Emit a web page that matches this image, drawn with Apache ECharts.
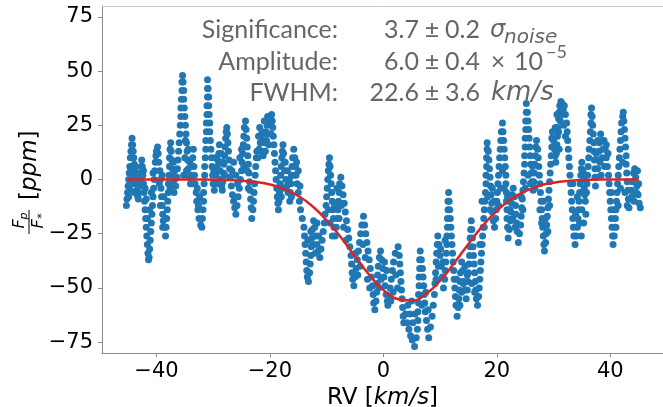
<!DOCTYPE html>
<html><head><meta charset="utf-8">
<script src="https://cdn.jsdelivr.net/npm/echarts@6/dist/echarts.min.js"></script>
<style>html,body{margin:0;padding:0;background:#fff}#c{width:663px;height:407px}</style>
</head><body><div id="c"></div>
<script>
const xTicks = [-40, -20, 0, 20, 40];
const yTicks = [-75, -50, -25, 0, 25, 50, 75];
const statLabels = ['Significance:', 'Amplitude:', 'FWHM:'];
const statValues = ['3.7', '6.0', '22.6'];
const statErrors = ['0.2', '0.4', '3.6'];

// observed points [RV km/s, Fp/F* ppm], traced along the streaks
const obs = [
[-45.3,-12],[-45.2,-9],[-45.1,-6],[-45.0,-3],[-44.9,0],[-44.8,3],[-44.7,6],[-44.6,10],[-44.5,13],[-44.4,16],[-44.3,19],
[-44.2,16],[-44.1,13],[-44.0,10],[-43.9,7],[-43.8,4],[-43.7,1],[-43.6,-2],[-43.5,-5],[-43.3,-8],[-43.2,-9],
[-43.1,-6],[-43.0,-3],[-42.9,0],[-42.8,3],[-42.7,6],[-42.6,9],
[-42.5,6],[-42.4,2],[-42.3,-2],[-42.2,-6],[-42.1,-10],[-42.0,-14],[-41.9,-18],[-41.8,-22],[-41.7,-26],[-41.6,-30],[-41.5,-34],[-41.4,-37],[-41.3,-36],
[-41.2,-32],[-41.1,-28],[-41.0,-24],[-40.9,-20],[-40.8,-16],[-40.7,-12],[-40.6,-8],[-40.5,-4],[-40.4,0],[-40.3,4],[-40.2,8],[-40.1,11],[-40.0,13],[-39.8,15],
[-39.7,12],[-39.6,8],[-39.4,4],[-39.3,0],[-39.2,-4],[-39.1,-8],[-39.0,-12],[-38.9,-16],[-38.8,-19],[-38.6,-22],[-38.4,-26],
[-38.3,-22],[-38.2,-18],[-38.1,-14],[-38.0,-10],[-37.9,-6],[-37.9,-2],[-37.8,2],[-37.7,6],[-37.7,10],[-37.6,14],[-37.5,17],
[-37.4,13],[-37.3,9],[-37.2,5],[-37.0,2],[-36.8,0],[-36.6,-3],
[-36.4,1],[-36.3,5],[-36.2,9],[-36.1,13],[-36.0,17],[-35.9,21],[-35.8,25],[-35.7,29],[-35.7,33],[-35.6,37],[-35.5,41],[-35.5,45],[-35.4,48],
[-35.3,45],[-35.2,41],[-35.2,37],[-35.1,33],[-35.0,29],[-34.9,25],[-34.8,21],[-34.7,17],[-34.6,13],[-34.5,9],[-34.4,5],[-34.2,1],[-34.0,-2],
[-33.9,2],[-33.8,6],[-33.6,10],
[-33.4,6],[-33.3,2],[-33.2,-2],[-33.0,-6],[-32.9,-10],[-32.7,-14],[-32.5,-18],[-32.2,-21],[-32.0,-22],
[-31.9,-18],[-31.8,-14],[-31.7,-10],[-31.7,-6],[-31.6,-2],[-31.5,2],[-31.5,6],[-31.4,10],[-31.3,14],[-31.3,18],[-31.2,22],[-31.2,26],[-31.1,30],[-31.1,34],[-31.0,38],[-31.0,42],[-31.0,46],
[-30.9,42],[-30.8,38],[-30.8,34],[-30.7,30],[-30.6,26],[-30.6,22],[-30.5,18],[-30.4,14],[-30.3,10],[-30.2,6],[-30.1,2],[-30.0,-2],[-29.8,-5],
[-29.6,-2],[-29.5,2],[-29.3,6],[-29.2,9],[-29.0,12],
[-28.9,8],[-28.8,4],[-28.7,0],[-28.5,-3],[-28.4,-5],
[-28.3,-1],[-28.2,3],[-28.1,7],[-28.0,11],[-27.9,15],[-27.8,19],[-27.7,22],[-27.6,24],
[-27.5,21],[-27.4,17],[-27.3,13],[-27.2,9],[-27.1,5],[-27.0,1],[-26.8,-3],[-26.6,-7],[-26.4,-10],[-26.2,-13],[-26.0,-16],
[-25.8,-12],[-25.6,-8],[-25.4,-4],[-25.2,0],[-25.0,4],[-24.9,8],[-24.8,12],[-24.7,16],[-24.6,20],[-24.5,24],[-24.3,27],
[-24.2,23],[-24.1,19],[-24.0,15],[-23.9,11],[-23.8,7],[-23.7,3],[-23.6,-1],[-23.5,-5],[-23.4,-9],[-23.3,-13],[-23.2,-18],
[-23.0,-14],[-22.9,-10],[-22.8,-6],[-22.7,-2],[-22.6,2],[-22.5,6],[-22.4,10],[-22.3,13],[-22.1,10],[-21.9,14],[-21.7,17],[-21.5,13],[-21.3,18],[-21.1,21],[-20.9,17],[-20.7,22],[-20.5,25],[-20.3,21],[-20.1,26],[-19.9,29],[-19.7,30],[-19.6,27],
[-19.5,24],[-19.4,20],[-19.3,16],[-19.2,12],[-19.1,8],[-19.0,4],[-18.9,0],[-18.8,-4],[-18.7,-8],[-18.6,-11],[-18.5,-14],
[-18.4,-10],[-18.3,-6],[-18.2,-2],[-18.1,2],[-18.0,6],[-17.9,10],[-17.8,13],[-17.7,16],
[-17.6,12],[-17.5,8],[-17.4,4],[-17.2,0],[-17.0,-3],[-16.8,-6],[-16.5,-10],
[-16.4,-6],[-16.3,-2],[-16.2,2],[-16.1,6],[-16.0,10],[-15.8,14],
[-15.6,10],[-15.5,6],[-15.4,2],[-15.2,-2],[-15.0,-6],[-14.8,-10],[-14.6,-14],[-14.3,-18],[-14.0,-22],
[-13.9,-26],[-13.8,-30],[-13.7,-34],[-13.6,-38],[-13.5,-42],[-13.4,-45],[-13.2,-47],
[-13.0,-43],[-12.9,-39],[-12.8,-35],[-12.7,-31],[-12.6,-27],[-12.5,-23],[-12.3,-19],
[-12.1,-22],[-11.9,-26],[-11.7,-30],[-11.5,-33],[-11.2,-36],
[-11.0,-32],[-10.8,-28],[-10.6,-24],[-10.4,-20],[-10.3,-16],[-10.1,-12],[-10.0,-8],
[-9.9,-4],[-9.8,0],[-9.7,4],[-9.6,7],[-9.5,10],
[-9.4,6],[-9.3,2],[-9.2,-2],[-9.1,-6],[-9.0,-10],[-8.9,-14],[-8.8,-18],[-8.7,-22],[-8.5,-26],
[-8.3,-22],[-8.1,-18],[-8.0,-14],[-7.9,-10],[-7.8,-6],[-7.7,-2],[-7.5,1],
[-7.3,-3],[-7.1,-7],[-6.9,-11],[-6.7,-15],[-6.5,-19],[-6.3,-23],[-6.1,-27],[-5.9,-31],[-5.7,-35],[-5.6,-39],[-5.5,-43],[-5.4,-46],[-5.2,-49],
[-5.0,-45],[-4.8,-41],[-4.6,-37],[-4.4,-33],[-4.2,-29],[-4.0,-25],[-3.8,-21],[-3.5,-17],
[-3.3,-21],[-3.1,-25],[-2.9,-29],[-2.7,-33],[-2.5,-37],[-2.3,-41],[-2.1,-45],[-1.9,-49],[-1.8,-53],[-1.7,-57],[-1.5,-60],
[-1.3,-56],[-1.2,-52],[-1.1,-48],[-1.0,-44],[-0.9,-40],[-0.7,-36],[-0.5,-33],
[-0.3,-37],[-0.1,-41],[0.1,-45],[0.3,-49],[0.5,-53],[0.7,-56],[0.8,-58],
[1.0,-54],[1.2,-50],[1.4,-46],[1.6,-42],[1.8,-38],[2.1,-34],[2.6,-31],
[2.8,-35],[2.9,-39],[3.0,-43],[3.1,-47],[3.2,-51],[3.3,-55],[3.4,-59],[3.5,-63],[3.6,-66],
[3.9,-62],[4.2,-66],[4.5,-69],[4.8,-72],[5.1,-74],[5.5,-77],[5.8,-73],
[6.0,-69],[6.1,-65],[6.1,-61],[6.2,-57],[6.2,-53],[6.3,-49],[6.3,-45],[6.4,-41],[6.4,-37],[6.5,-33],
[6.7,-37],[6.9,-41],[7.0,-45],[7.1,-49],[7.2,-53],[7.3,-57],[7.4,-61],[7.6,-65],[7.8,-69],[8.0,-73],
[8.3,-68],[8.6,-63],[8.8,-58],[9.0,-53],[9.1,-48],[9.2,-43],[9.3,-38],[9.4,-34],[9.5,-30],[9.6,-26],
[9.8,-30],[10.0,-35],[10.2,-40],[10.4,-45],[10.6,-50],
[10.8,-46],[10.9,-42],[11.0,-38],[11.1,-34],[11.2,-30],[11.2,-26],[11.3,-22],[11.3,-18],[11.4,-14],[11.4,-10],[11.5,-6],
[11.6,-10],[11.7,-14],[11.8,-18],[11.9,-22],[12.0,-26],[12.1,-30],[12.2,-34],[12.3,-38],[12.4,-42],[12.5,-46],[12.6,-50],[12.7,-54],[12.8,-58],[13.0,-63],
[13.2,-59],[13.3,-55],[13.4,-51],[13.5,-47],[13.6,-43],[13.8,-38],
[14.0,-42],[14.2,-47],[14.4,-51],[14.6,-55],
[14.8,-51],[14.9,-47],[15.0,-43],[15.1,-39],[15.2,-35],[15.3,-31],[15.3,-27],[15.4,-23],[15.5,-19],
[15.6,-23],[15.7,-27],[15.8,-31],[15.9,-35],[16.0,-39],[16.1,-43],[16.2,-47],[16.3,-51],[16.4,-55],[16.6,-58],
[16.8,-54],[16.9,-50],[17.0,-46],[17.1,-42],[17.2,-38],[17.3,-34],[17.4,-30],[17.5,-26],[17.6,-22],[17.7,-18],[17.8,-14],[17.9,-10],[18.0,-6],[18.1,-2],[18.1,2],[18.2,6],[18.2,10],[18.3,14],[18.3,17],
[18.5,13],[18.6,9],[18.7,5],[18.8,1],[18.9,-3],[19.0,-7],[19.1,-11],[19.2,-15],[19.4,-19],[19.6,-22],
[19.8,-18],[19.9,-14],[20.0,-10],[20.1,-6],[20.2,-2],[20.3,2],[20.4,6],[20.5,10],[20.6,14],[20.7,18],[20.8,22],[21.0,26],
[21.1,22],[21.2,18],[21.3,14],[21.4,10],[21.5,6],[21.6,2],[21.6,-2],[21.7,-6],[21.7,-10],[21.8,-14],[21.8,-18],[21.9,-22],[22.0,-27],
[22.2,-23],[22.4,-19],[22.5,-15],[22.6,-11],[22.7,-7],[22.9,-4],
[23.1,-8],[23.3,-12],[23.4,-16],[23.5,-20],[23.6,-24],[23.8,-29],
[24.0,-25],[24.2,-21],[24.3,-17],[24.4,-13],[24.5,-9],[24.6,-5],[24.7,-1],[24.8,3],[24.9,7],[24.9,11],[25.0,15],[25.0,19],[25.1,23],[25.1,27],[25.2,31],[25.2,35],
[25.4,31],[25.5,27],[25.6,23],[25.7,19],[25.8,15],[25.9,11],[26.0,7],[26.1,3],[26.2,-1],[26.4,-5],
[26.5,-1],[26.6,3],[26.7,7],[26.8,11],[26.9,15],[27.0,18],
[27.2,14],[27.3,10],[27.4,6],[27.5,2],[27.6,-2],[27.7,-6],[27.8,-10],[27.9,-14],[28.0,-18],[28.1,-22],[28.2,-26],[28.3,-30],[28.4,-33],
[28.6,-29],[28.7,-25],[28.8,-21],[28.9,-17],[29.0,-13],[29.1,-9],[29.2,-5],[29.3,-1],[29.4,3],[29.5,7],[29.6,11],[29.7,15],[29.7,19],[29.8,22],
[30.0,18],[30.2,14],[30.3,11],[30.4,8],
[30.5,12],[30.6,16],[30.7,20],[30.8,24],[30.9,28],[31.0,31],[31.1,34],[31.3,36],[31.5,35],[31.7,32],[31.9,34],[32.1,30],
[32.3,26],[32.4,22],[32.5,18],[32.6,14],[32.7,10],[32.8,6],[32.9,2],[33.0,-2],[33.1,-6],[33.2,-10],[33.3,-14],[33.4,-18],[33.5,-22],[33.6,-26],[33.8,-30],
[34.0,-26],[34.2,-22],[34.3,-18],[34.4,-14],[34.5,-10],[34.6,-6],[34.7,-2],[34.8,2],[34.9,5],[35.0,8],
[35.2,4],[35.3,0],[35.4,-4],[35.5,-7],[35.6,-10],
[35.8,-6],[35.9,-2],[36.0,2],[36.1,6],[36.2,10],[36.3,14],[36.4,18],[36.5,22],[36.6,26],[36.6,30],[36.7,33],
[36.8,29],[36.9,25],[37.0,21],[37.1,17],[37.1,13],[37.2,9],[37.3,5],[37.3,1],[37.4,-3],
[37.6,1],[37.8,5],[37.9,9],[38.0,13],[38.1,17],[38.3,21],[38.5,18],[38.7,14],[38.9,18],[39.1,14],[39.3,10],[39.5,6],[39.7,2],
[39.8,-2],[39.9,-6],[40.0,-10],[40.1,-14],[40.2,-18],[40.3,-22],[40.4,-26],[40.5,-30],
[40.7,-26],[40.8,-22],[40.9,-18],[41.0,-14],[41.1,-10],[41.2,-6],[41.3,-2],[41.4,2],[41.5,6],[41.6,10],[41.7,14],[41.8,18],[41.9,22],[42.0,26],[42.2,29],[42.3,31],
[42.4,27],[42.5,23],[42.6,19],[42.7,15],[42.8,11],[42.8,7],[42.9,3],[43.0,-1],[43.1,-5],[43.2,-9],[43.3,-13],
[43.5,-9],[43.7,-5],[43.9,-1],[44.1,3],[44.3,5],[44.5,1],[44.7,-3],[44.9,-7],[45.1,-11],[45.3,-13]
];

// further dots in the dense clumps
const obsClumps = [
[-44.9,-8],[-44.6,-5],[-44.3,-2],[-44.0,2],[-43.7,6],[-44.5,5],[-43.9,-6],[-43.4,-1],
[-42.0,-4],[-41.8,-9],[-41.2,-14],[-40.9,-6],[-41.6,-18],[-40.6,3],[-42.3,4],
[-39.5,-2],[-39.0,2],[-38.7,-8],[-38.9,-22],[-39.3,-12],
[-37.3,-2],[-37.0,8],[-36.8,4],[-36.9,-6],[-37.6,-4],
[-35.0,10],[-34.7,4],[-34.4,14],[-34.1,8],[-33.7,-2],[-35.2,2],[-34.9,18],[-33.5,14],
[-32.8,-4],[-32.6,-12],[-32.4,-8],
[-29.9,4],[-29.6,10],[-29.3,-2],[-28.9,16],[-28.6,12],[-28.3,8],[-27.9,2],
[-26.7,4],[-26.4,8],[-26.0,2],[-25.7,-2],[-25.3,10],[-25.0,14],[-24.6,6],[-24.0,4],[-23.8,-4],
[-22.0,20],[-21.8,24],[-21.4,22],[-21.0,27],[-20.8,13],[-20.6,18],[-20.2,16],[-19.8,21],[-20.4,29],[-21.2,11],
[-18.0,-8],[-17.7,-4],[-17.3,8],[-16.9,4],[-16.6,0],[-16.2,-8],[-15.9,2],[-15.3,8],[-15.0,4],[-14.7,-3],
[-12.8,-24],[-12.4,-30],[-12.0,-34],[-11.7,-20],[-11.4,-26],[-13.3,-28],
[-9.7,-14],[-9.4,-20],[-9.0,-26],[-8.6,-12],[-8.2,-4],[-7.8,-18],[-7.4,-12],[-7.0,-22],[-6.6,-28],
[-4.9,-34],[-4.5,-44],[-4.1,-40],[-3.6,-30],[-3.2,-36],[-2.8,-46],[-2.4,-50],
[-0.8,-50],[-0.4,-46],[0.2,-38],[0.6,-42],[1.3,-56],[1.7,-52],[2.2,-44],[2.5,-50],
[4.3,-58],[4.7,-62],[5.2,-66],[5.6,-62],[6.8,-58],[7.5,-52],[7.9,-60],[5.0,-56],
[9.3,-46],[9.7,-40],[10.1,-32],[10.5,-38],[10.9,-28],
[12.9,-46],[13.5,-58],[14.1,-48],[14.4,-40],[14.8,-44],[15.6,-48],[16.1,-52],[13.8,-52],
[17.4,-10],[17.8,-22],[18.4,-8],[18.8,-14],[19.2,-4],[19.5,-10],[17.0,-30],
[20.3,-12],[20.7,-4],[21.0,4],[21.3,-4],[21.9,-8],[22.3,-14],[22.8,-18],[23.2,-22],
[24.3,-8],[24.6,-14],[25.0,-4],[25.5,2],[25.9,-2],[26.3,6],[26.7,-4],
[27.6,-14],[27.9,-20],[28.2,-10],[28.6,-18],[29.0,-24],[29.3,-12],
[30.3,24],[30.6,30],[30.9,22],[31.2,27],[31.5,30],[31.8,25],[32.1,20],[31.0,14],
[33.4,-2],[33.9,-16],[34.2,-8],[34.6,-20],[35.0,-14],[35.3,-20],[35.7,-16],[34.9,-26],
[37.5,12],[37.8,18],[38.2,8],[38.6,10],[39.0,6],[39.3,16],[38.4,2],[39.6,12],
[40.2,-6],[40.6,-14],[41.0,-22],[41.4,-12],[41.8,-4],[42.2,8],[42.6,-6],[43.0,-12],
[43.8,-8],[44.2,-10],[44.6,-6],[45.0,-2],[44.8,4]
];

// fitted Gaussian line
const fitRV =   [-45,-40,-35,-30,-27.5,-25,-22.5,-20,-17.5,-15,-12.5,-10,-7.5,-5,-2.5,0,2.5,5,7.5,10,12.5,15,17.5,20,22.5,25,27.5,30,32.5,35,37.5,40,42.5,45];
const fitFlux = [0,0,0,-0.1,-0.2,-0.6,-1.2,-2.3,-4.4,-7.6,-12.3,-18.8,-26.6,-35.4,-43.9,-50.9,-55.1,-55.8,-52.8,-46.7,-38.5,-29.7,-21.4,-14.5,-9.1,-5.4,-2.9,-1.5,-0.7,-0.3,-0.1,0,0,0];

const chart = echarts.init(document.getElementById('c'), null, {renderer: 'canvas'});
const TICKFONT = 'DejaVu Sans';
const ANN = 'Lato';
const GRAY = '#666666';
const AX = '#8a8a8a';

const fitData = fitRV.map((x, i) => [x, fitFlux[i]]);
const allObs = obs.concat(obsClumps);

const graphics = [];
const rowY = [30, 62, 93];
statLabels.forEach((lab, i) => {
  const y = rowY[i];
  graphics.push({type: 'text', x: 338, y: y, style: {text: lab, font: '25px ' + ANN, fill: GRAY, align: 'right', verticalAlign: 'middle'}});
  graphics.push({type: 'text', x: 419, y: y, style: {text: statValues[i], font: '25px ' + ANN, fill: GRAY, align: 'right', verticalAlign: 'middle'}});
  graphics.push({type: 'text', x: 432, y: y, style: {text: '\u00b1', font: '25px ' + ANN, fill: GRAY, align: 'center', verticalAlign: 'middle'}});
  graphics.push({type: 'text', x: 445, y: y, style: {text: statErrors[i], font: '25px ' + ANN, fill: GRAY, align: 'left', verticalAlign: 'middle'}});
});
graphics.push({type: 'text', x: 490, y: rowY[0] + 1, style: {text: '\u03c3', font: 'italic 24px ' + TICKFONT, fill: GRAY, align: 'left', verticalAlign: 'middle'}});
graphics.push({type: 'text', x: 504, y: rowY[0] + 8, style: {text: 'noise', font: 'italic 20px ' + TICKFONT, fill: GRAY, align: 'left', verticalAlign: 'middle'}});
graphics.push({type: 'text', x: 498, y: rowY[1], style: {text: '\u00d7', font: '25px ' + ANN, fill: GRAY, align: 'center', verticalAlign: 'middle'}});
graphics.push({type: 'text', x: 514, y: rowY[1], style: {text: '10', font: '25px ' + ANN, fill: GRAY, align: 'left', verticalAlign: 'middle'}});
graphics.push({type: 'text', x: 546, y: rowY[1] - 10, style: {text: '\u22125', font: '18px ' + ANN, fill: GRAY, align: 'left', verticalAlign: 'middle'}});
graphics.push({type: 'text', x: 491, y: rowY[2], style: {text: 'km/s', font: 'italic 26px ' + TICKFONT, fill: GRAY, align: 'left', verticalAlign: 'middle'}});

// y-axis label (rotated)
graphics.push({
  type: 'group', x: 29, y: 222, rotation: Math.PI / 2,
  children: [
    {type: 'line', shape: {x1: -12, y1: 0, x2: 12, y2: 0}, style: {stroke: '#000', lineWidth: 1}},
    {type: 'text', x: -2, y: -9, style: {text: 'F', font: 'italic 16px ' + TICKFONT, fill: '#000', align: 'center', verticalAlign: 'middle'}},
    {type: 'text', x: 6, y: -5, style: {text: 'p', font: 'italic 11px ' + TICKFONT, fill: '#000', align: 'center', verticalAlign: 'middle'}},
    {type: 'text', x: -2, y: 10, style: {text: 'F', font: 'italic 16px ' + TICKFONT, fill: '#000', align: 'center', verticalAlign: 'middle'}},
    {type: 'text', x: 6, y: 13, style: {text: '*', font: '11px ' + TICKFONT, fill: '#000', align: 'center', verticalAlign: 'middle'}},
    {type: 'text', x: 22, y: 1, style: {text: '{n|[}{i|ppm}{n|]}', fill: '#000', align: 'left', verticalAlign: 'middle',
      rich: {n: {font: '23px ' + TICKFONT, fill: '#000'}, i: {font: 'italic 23px ' + TICKFONT, fill: '#000'}}}}
  ]
});

chart.setOption({
  animation: false,
  grid: {left: 102, right: 0, top: 6, bottom: 54, containLabel: false, outerBoundsMode: 'none'},
  xAxis: [{
    type: 'value', min: -49.6, max: 49.3, position: 'bottom',
    axisLine: {show: true, onZero: false, lineStyle: {color: AX, width: 1}},
    axisTick: {show: true, length: 4, lineStyle: {color: AX}, customValues: xTicks},
    axisLabel: {customValues: xTicks, fontFamily: TICKFONT, fontSize: 21, color: '#000', margin: 8,
      formatter: v => (v < 0 ? '\u2212' + Math.abs(v) : String(v))},
    splitLine: {show: false},
    name: '{n|RV [}{i|km/s}{n|]}', nameLocation: 'middle', nameGap: 28,
    nameTextStyle: {rich: {n: {fontFamily: TICKFONT, fontSize: 23, color: '#000'}, i: {fontFamily: TICKFONT, fontSize: 23, fontStyle: 'italic', color: '#000'}}}
  }, {
    type: 'value', min: -49.6, max: 49.3, position: 'top',
    axisLine: {show: true, onZero: false, lineStyle: {color: '#c8c8c8', width: 1}},
    axisTick: {show: false}, axisLabel: {show: false}, splitLine: {show: false}
  }],
  yAxis: {
    type: 'value', min: -80, max: 80,
    axisLine: {show: true, onZero: false, lineStyle: {color: AX, width: 1}},
    axisTick: {show: true, length: 4, lineStyle: {color: AX}, customValues: yTicks},
    axisLabel: {customValues: yTicks, fontFamily: TICKFONT, fontSize: 21, color: '#000', margin: 9,
      formatter: v => (v < 0 ? '\u2212' + Math.abs(v) : String(v))},
    splitLine: {show: false}
  },
  series: [{
    type: 'scatter', xAxisIndex: 0, data: allObs, symbol: 'circle', symbolSize: 7,
    itemStyle: {color: '#1f77b4', opacity: 1}, z: 2
  }, {
    type: 'line', xAxisIndex: 0, data: fitData, smooth: true, showSymbol: false,
    lineStyle: {color: '#d62728', width: 2.5}, z: 3
  }],
  graphic: graphics
});
</script>
</body></html>
